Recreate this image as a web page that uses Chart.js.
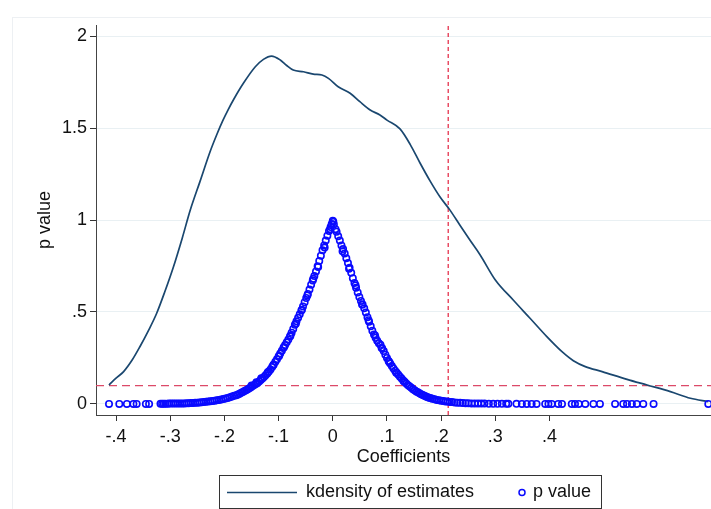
<!DOCTYPE html>
<html>
<head>
<meta charset="utf-8">
<script src="https://cdn.jsdelivr.net/npm/chart.js@4.4.0/dist/chart.umd.min.js"></script>
<style>
  html, body { margin: 0; padding: 0; background: #ffffff; }
  #wrap { position: relative; width: 711px; height: 509px; }
  canvas { display: block; }
</style>
</head>
<body>
<div id="wrap"><canvas id="c" width="711" height="509"></canvas></div>
<script>
// ---------------- data ----------------
const kdX = [-0.413, -0.400, -0.386, -0.370, -0.356, -0.340, -0.325, -0.310, -0.294, -0.278,
  -0.263, -0.245, -0.226, -0.214, -0.203, -0.193, -0.183, -0.165, -0.143, -0.128, -0.113, -0.097,
  -0.085, -0.073, -0.054, -0.036, -0.020, -0.008, 0.010, 0.032, 0.050, 0.069,
  0.087, 0.100, 0.124, 0.143, 0.161, 0.180, 0.198, 0.216, 0.235, 0.253,
  0.272, 0.300, 0.333, 0.364, 0.395, 0.423, 0.444, 0.466, 0.497, 0.543,
  0.580, 0.623, 0.660, 0.693];
const kdY = [0.103, 0.140, 0.176, 0.240, 0.311, 0.400, 0.493, 0.610, 0.746, 0.900,
  1.054, 1.210, 1.375, 1.465, 1.540, 1.600, 1.655, 1.743, 1.833, 1.873, 1.891, 1.870,
  1.840, 1.815, 1.806, 1.793, 1.788, 1.770, 1.724, 1.689, 1.643, 1.598,
  1.571, 1.543, 1.495, 1.410, 1.310, 1.210, 1.125, 1.055, 0.970, 0.891,
  0.810, 0.674, 0.565, 0.466, 0.366, 0.284, 0.235, 0.203, 0.176, 0.134,
  0.103, 0.067, 0.031, 0.013];

const coef = [
  -0.413, -0.394, -0.380, -0.368, -0.362, -0.345, -0.339,
  -0.318, -0.315, -0.312, -0.309, -0.305, -0.302, -0.298, -0.294, -0.290, -0.286,
  -0.282, -0.278, -0.274, -0.270, -0.266, -0.262, -0.258, -0.254, -0.250, -0.246,
  -0.242, -0.238, -0.234, -0.230, -0.226, -0.222, -0.218, -0.214, -0.210, -0.206,
  -0.202, -0.198, -0.194, -0.190, -0.186, -0.182, -0.178, -0.175, -0.172, -0.169,
  -0.166, -0.163, -0.160, -0.157, -0.154, -0.151, -0.148, -0.145, -0.142, -0.139,
  -0.136, -0.133, -0.130, -0.127, -0.124, -0.121, -0.118, -0.115, -0.112, -0.109,
  -0.106, -0.103, -0.100, -0.097, -0.094, -0.091, -0.088, -0.085, -0.082, -0.079,
  -0.076, -0.073, -0.070, -0.067, -0.064, -0.061, -0.058, -0.055, -0.052, -0.049,
  -0.046, -0.043, -0.040, -0.037, -0.034, -0.031, -0.028, -0.025, -0.022, -0.019,
  -0.016, -0.013, -0.010, -0.007, -0.004, -0.002, 0.000,
  -0.150, -0.141, -0.132, -0.120, -0.110, -0.099, -0.090, -0.078, -0.068, -0.057,
  -0.047, -0.036, -0.027, -0.015, -0.005,
  0.001, 0.002, 0.005, 0.007, 0.010, 0.013, 0.016, 0.019, 0.022, 0.025,
  0.028, 0.031, 0.034, 0.037, 0.040, 0.043, 0.046, 0.049, 0.052, 0.055,
  0.058, 0.061, 0.064, 0.067, 0.070, 0.073, 0.076, 0.079, 0.082, 0.085,
  0.088, 0.091, 0.094, 0.097, 0.100, 0.103, 0.106, 0.109, 0.112, 0.115,
  0.118, 0.121, 0.124, 0.127, 0.130, 0.133, 0.136, 0.139, 0.142, 0.145,
  0.148, 0.151, 0.154, 0.157, 0.160, 0.163, 0.166, 0.169, 0.172, 0.175,
  0.178, 0.181, 0.184, 0.188, 0.192, 0.196, 0.200, 0.204, 0.208, 0.212,
  0.216, 0.220, 0.225, 0.230, 0.235, 0.240, 0.245, 0.250, 0.256, 0.262,
  0.268, 0.274, 0.280, 0.288, 0.296, 0.304, 0.312, 0.320,
  0.018, 0.030, 0.042, 0.054, 0.066, 0.078, 0.090, 0.104, 0.117, 0.131,
  0.324, 0.339, 0.349, 0.358, 0.367, 0.376, 0.392, 0.398, 0.404, 0.416,
  0.423, 0.441, 0.447, 0.454, 0.466, 0.481, 0.493, 0.521, 0.536, 0.543,
  0.552, 0.561, 0.573, 0.592, 0.693];
const pval = [
  0.000, 0.000, 0.000, 0.000, 0.000, 0.000, 0.000,
  0.001, 0.001, 0.001, 0.001, 0.001, 0.002, 0.002, 0.002, 0.002, 0.003,
  0.003, 0.003, 0.003, 0.004, 0.004, 0.005, 0.005, 0.006, 0.007, 0.008,
  0.009, 0.010, 0.012, 0.013, 0.015, 0.016, 0.018, 0.020, 0.022, 0.024,
  0.027, 0.030, 0.033, 0.036, 0.040, 0.044, 0.048, 0.052, 0.056, 0.061,
  0.065, 0.070, 0.075, 0.080, 0.086, 0.091, 0.097, 0.103, 0.108, 0.114,
  0.122, 0.130, 0.138, 0.147, 0.156, 0.165, 0.176, 0.188, 0.201, 0.215,
  0.229, 0.243, 0.258, 0.274, 0.289, 0.305, 0.320, 0.335, 0.351, 0.367,
  0.387, 0.408, 0.430, 0.449, 0.468, 0.487, 0.508, 0.530, 0.553, 0.576,
  0.598, 0.622, 0.648, 0.671, 0.695, 0.720, 0.748, 0.777, 0.806, 0.835,
  0.862, 0.888, 0.915, 0.940, 0.962, 0.978, 0.996,
  0.100, 0.118, 0.140, 0.172, 0.210, 0.262, 0.310, 0.372, 0.438, 0.512,
  0.590, 0.680, 0.745, 0.850, 0.950,
  0.990, 0.975, 0.950, 0.936, 0.912, 0.888, 0.862, 0.842, 0.818, 0.792,
  0.766, 0.740, 0.713, 0.684, 0.658, 0.632, 0.606, 0.582, 0.560, 0.540,
  0.520, 0.497, 0.472, 0.447, 0.422, 0.398, 0.378, 0.360, 0.343, 0.330,
  0.322, 0.303, 0.288, 0.268, 0.250, 0.234, 0.220, 0.206, 0.193, 0.181,
  0.170, 0.159, 0.148, 0.138, 0.128, 0.119, 0.110, 0.102, 0.095, 0.088,
  0.080, 0.074, 0.068, 0.063, 0.058, 0.053, 0.049, 0.045, 0.041, 0.037,
  0.034, 0.031, 0.028, 0.025, 0.022, 0.020, 0.018, 0.016, 0.014, 0.013,
  0.011, 0.010, 0.008, 0.007, 0.006, 0.005, 0.004, 0.004, 0.003, 0.003,
  0.002, 0.002, 0.002, 0.001, 0.001, 0.001, 0.001, 0.001,
  0.830, 0.735, 0.645, 0.540, 0.455, 0.372, 0.305, 0.228, 0.170, 0.124,
  0.001, 0.001, 0.000, 0.000, 0.000, 0.000, 0.000, 0.000, 0.000, 0.000,
  0.000, 0.000, 0.000, 0.000, 0.000, 0.000, 0.000, 0.000, 0.000, 0.000,
  0.000, 0.000, 0.000, 0.000, 0.000];

const refP = 0.1;       // horizontal reference line (p = .1)
const refCoef = 0.213;  // vertical reference line

const xTickValues = [-0.4, -0.3, -0.2, -0.1, 0, 0.1, 0.2, 0.3, 0.4];
const xTickLabels = ['-.4', '-.3', '-.2', '-.1', '0', '.1', '.2', '.3', '.4'];
const yTickValues = [0, 0.5, 1, 1.5, 2];
const yTickLabels = ['0', '.5', '1', '1.5', '2'];

const xTitle = 'Coefficients';
const yTitle = 'p value';
const seriesNames = ['kdensity of estimates', 'p value'];

// ---------------- chart ----------------
const X_MIN = -0.437, X_MAX = 0.698, Y_MIN = -0.06, Y_MAX = 2.06;
const FONT = "'Liberation Sans', Arial, sans-serif";
const NAVY = '#1a476f';
const BLUE = '#0a0aff';

const kdData = kdX.map((x, i) => ({ x: x, y: kdY[i] }));
const pData = coef.map((x, i) => ({ x: x, y: pval[i] }));

const legendPlugin = {
  id: 'stataLegend',
  afterDraw(chart) {
    const ctx = chart.ctx;
    ctx.save();
    // outer faint frame
    ctx.strokeStyle = '#edf0f3';
    ctx.lineWidth = 1;
    ctx.strokeRect(12.5, 17.5, 800, 600);
    // legend box
    ctx.strokeStyle = '#333333';
    ctx.lineWidth = 1;
    ctx.strokeRect(219.5, 475.5, 382, 33);
    const cy = 492.5;
    ctx.strokeStyle = NAVY;
    ctx.lineWidth = 1.5;
    ctx.beginPath();
    ctx.moveTo(227, cy);
    ctx.lineTo(297, cy);
    ctx.stroke();
    ctx.fillStyle = '#111111';
    ctx.font = "18px " + FONT;
    ctx.textBaseline = 'middle';
    ctx.textAlign = 'left';
    ctx.fillText(seriesNames[0], 306, cy);
    ctx.strokeStyle = BLUE;
    ctx.lineWidth = 1.5;
    ctx.beginPath();
    ctx.arc(522, cy, 3, 0, Math.PI * 2);
    ctx.stroke();
    ctx.fillText(seriesNames[1], 533, cy);
    ctx.restore();
  }
};

new Chart(document.getElementById('c'), {
  type: 'scatter',
  data: {
    datasets: [
      {
        label: seriesNames[1],
        data: pData,
        showLine: false,
        pointStyle: 'circle',
        pointRadius: 3.2,
        pointBorderWidth: 1.6,
        pointBorderColor: BLUE,
        pointBackgroundColor: 'rgba(0,0,0,0)',
        order: 1
      },
      {
        label: seriesNames[0],
        data: kdData,
        showLine: true,
        borderColor: NAVY,
        borderWidth: 1.7,
        pointRadius: 0,
        cubicInterpolationMode: 'monotone',
        fill: false,
        order: 2
      },
      {
        label: 'hline',
        data: [{ x: X_MIN, y: refP }, { x: X_MAX, y: refP }],
        showLine: true,
        borderColor: '#dc4a68',
        borderWidth: 1.3,
        borderDash: [8, 5],
        pointRadius: 0,
        order: 3
      },
      {
        label: 'vline',
        data: [{ x: refCoef, y: Y_MIN }, { x: refCoef, y: Y_MAX }],
        showLine: true,
        borderColor: '#e3223f',
        borderWidth: 1.2,
        borderDash: [4, 3],
        pointRadius: 0,
        order: 3
      }
    ]
  },
  options: {
    responsive: false,
    animation: false,
    devicePixelRatio: 1,
    layout: { autoPadding: false, padding: { left: 0, right: 0, top: 25, bottom: 39 } },
    plugins: { legend: { display: false }, tooltip: { enabled: false } },
    scales: {
      x: {
        type: 'linear',
        min: X_MIN, max: X_MAX,
        afterBuildTicks(scale) { scale.ticks = xTickValues.map(v => ({ value: v })); },
        afterFit(scale) { scale.height = 55; scale.paddingLeft = 0; scale.paddingRight = 0; },
        ticks: {
          callback(value) { const i = xTickValues.findIndex(v => Math.abs(v - value) < 1e-9); return i >= 0 ? xTickLabels[i] : ''; },
          color: '#111111',
          font: { family: FONT, size: 18 },
          padding: 5,
          maxRotation: 0,
          autoSkip: false
        },
        grid: { drawOnChartArea: false, drawTicks: true, tickLength: 6, tickColor: '#333333', tickWidth: 1 },
        border: { display: true, color: '#444444', width: 1 },
        title: { display: true, text: xTitle, color: '#111111', font: { family: FONT, size: 18 }, padding: { top: 0, bottom: 2 } }
      },
      y: {
        type: 'linear',
        min: Y_MIN, max: Y_MAX,
        afterBuildTicks(scale) { scale.ticks = yTickValues.map(v => ({ value: v })); },
        afterFit(scale) { scale.width = 96; scale.paddingTop = 0; scale.paddingBottom = 0; },
        ticks: {
          callback(value) { const i = yTickValues.findIndex(v => Math.abs(v - value) < 1e-9); return i >= 0 ? yTickLabels[i] : ''; },
          color: '#111111',
          font: { family: FONT, size: 18 },
          padding: 3,
          autoSkip: false
        },
        grid: { drawOnChartArea: true, color: '#e9f0f3', lineWidth: 1, drawTicks: true, tickLength: 6, tickColor: '#333333', tickWidth: 1 },
        border: { display: true, color: '#444444', width: 1 },
        title: { display: true, text: yTitle, color: '#111111', font: { family: FONT, size: 18 }, padding: { top: 34, bottom: 0 } }
      }
    }
  },
  plugins: [legendPlugin]
});
</script>
</body>
</html>
